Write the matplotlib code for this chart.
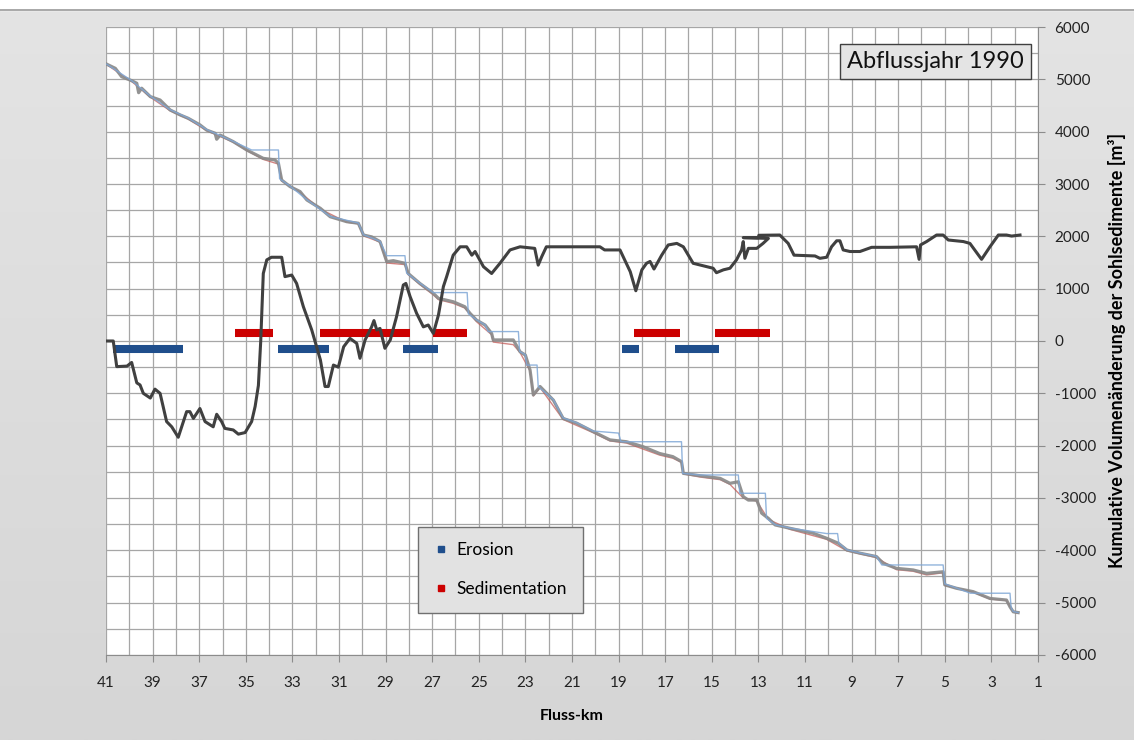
import numpy as np
import matplotlib
matplotlib.use("Agg")
import matplotlib.pyplot as plt
from matplotlib.lines import Line2D
from matplotlib.ticker import MultipleLocator
from matplotlib.colors import LinearSegmentedColormap

plt.rcParams['font.family'] = ['Lato', 'DejaVu Sans']
plt.rcParams['axes.unicode_minus'] = False

# Differenz Erosion/Sedimentation entlang der Fliessstrecke
diff_km = [41.0, 40.69, 40.54, 40.1, 39.9, 39.68, 39.54, 39.4, 39.1, 38.9,
           38.68, 38.4, 38.18, 37.9, 37.54, 37.4, 37.25, 36.97, 36.75, 36.4,
           36.25, 36.04, 35.9, 35.54, 35.32, 35.03, 34.75, 34.6, 34.46, 34.36,
           34.25, 34.1, 33.9, 33.46, 33.32, 33.03, 32.82, 32.53, 32.17, 31.8,
           31.6, 31.46, 31.24, 31.03, 30.8, 30.53, 30.24, 30.1, 29.88, 29.6,
           29.5, 29.38, 29.24, 29.03, 28.8, 28.53, 28.24, 28.13, 27.95, 27.67,
           27.38, 27.17, 26.95, 26.73, 26.52, 26.38, 26.1, 25.8, 25.52, 25.3,
           25.16, 24.8, 24.45, 24.1, 23.66, 23.23, 22.6, 22.45, 22.3, 22.1,
           19.8, 19.6, 18.94, 18.5, 18.26, 18.0, 17.8, 17.65, 17.48, 17.15,
           16.87, 16.5, 16.22, 15.8, 15.22, 14.94, 14.8, 14.5, 14.22, 13.94,
           13.72, 13.65, 13.58, 13.43, 13.07, 12.8, 12.57, 13.65, 13.0, 12.98,
           12.08, 11.72, 11.47, 10.57, 10.36, 10.07, 9.86, 9.64, 9.5, 9.36,
           9.07, 8.64, 8.14, 7.35, 6.21, 6.1, 6.04, 5.78, 5.35, 5.07,
           4.85, 4.2, 3.92, 3.42, 3.06, 2.7, 2.35, 2.13, 1.77]
diff_val = [0, 0, -490, -480, -410, -800, -840, -1000, -1090, -920,
            -1000, -1540, -1640, -1840, -1350, -1350, -1480, -1290, -1540, -1640,
            -1400, -1540, -1670, -1700, -1780, -1750, -1540, -1250, -850, 0,
            1290, 1550, 1600, 1600, 1230, 1260, 1100, 655, 210, -360,
            -870, -870, -460, -500, -110, 50, -45, -330, 20, 270,
            390, 210, 240, -140, 20, 465, 1070, 1100, 850, 530,
            270, 305, 145, 500, 1040, 1230, 1640, 1800, 1800, 1640,
            1710, 1420, 1290, 1480, 1740, 1800, 1770, 1450, 1610, 1800,
            1800, 1740, 1740, 1325, 960, 1360, 1485, 1520, 1375, 1640,
            1835, 1865, 1800, 1485, 1420, 1390, 1305, 1360, 1390, 1550,
            1740, 1900, 1580, 1770, 1770, 1865, 1960, 1975, 1975, 2020,
            2025, 1865, 1640, 1625, 1580, 1600, 1800, 1915, 1915, 1740,
            1710, 1710, 1790, 1790, 1800, 1560, 1835, 1900, 2025, 2025,
            1930, 1900, 1865, 1560, 1800, 2025, 2025, 2005, 2025]

# kumulative Volumenaenderung (grau)
cum_km = [40.97, 40.6, 40.33, 39.9, 39.68, 39.6, 39.47, 39.1, 38.68, 38.25,
          37.82, 37.47, 36.97, 36.68, 36.32, 36.25, 36.1, 35.54, 34.96, 34.25,
          33.75, 33.6, 33.46, 33.1, 32.67, 32.38, 31.8, 31.38, 30.67, 30.17,
          29.95, 29.6, 29.24, 28.95, 28.67, 28.17, 28.03, 27.53, 26.95, 26.73,
          26.1, 25.6, 25.38, 25.1, 24.73, 24.45, 24.38, 23.52, 23.23, 23.0,
          22.8, 22.66, 22.37, 21.8, 21.38, 20.8, 20.1, 19.37, 18.66, 17.95,
          17.24, 16.67, 16.3, 16.22, 15.5, 14.64, 14.22, 13.86, 13.65, 13.43,
          13.07, 12.86, 12.57, 12.28, 11.64, 10.64, 10.07, 9.57, 9.2, 8.64,
          7.93, 7.64, 7.07, 6.36, 5.78, 5.07, 5.0, 4.5, 3.78, 3.06,
          2.35, 2.2, 2.06, 1.85]
cum_val = [5290, 5210, 5050, 4975, 4925, 4745, 4830, 4670, 4605, 4415,
           4320, 4255, 4130, 4030, 3970, 3855, 3935, 3810, 3650, 3490,
           3460, 3395, 3075, 2950, 2855, 2695, 2535, 2375, 2280, 2250,
           2025, 1990, 1900, 1515, 1535, 1485, 1290, 1100, 910, 815,
           750, 655, 530, 400, 305, 145, 20, 20, -205, -270,
           -555, -1030, -870, -1130, -1480, -1570, -1730, -1890, -1925, -2020,
           -2150, -2210, -2305, -2530, -2575, -2625, -2720, -2690, -2975, -3040,
           -3040, -3290, -3390, -3515, -3580, -3675, -3770, -3865, -3995, -4055,
           -4120, -4250, -4345, -4375, -4440, -4410, -4660, -4725, -4790, -4920,
           -4950, -5080, -5175, -5190]

# Vergleichslinie (rot)
red_km = [40.97, 39.9, 39.1, 38.25, 37.47, 36.68, 35.54, 34.96, 34.25, 33.6,
          33.46, 32.67, 31.8, 30.67, 30.17, 29.95, 29.24, 28.95, 28.17, 28.03,
          27.53, 26.95, 26.73, 26.1, 25.6, 25.1, 24.45, 24.38, 23.52, 23.23,
          22.8, 22.66, 22.37, 21.38, 20.1, 19.37, 18.66, 17.24, 16.67, 16.3,
          16.22, 15.5, 14.64, 14.22, 13.65, 13.07, 12.57, 11.64, 10.07, 9.2,
          7.93, 7.07, 6.36, 5.78, 5.07, 5.0, 3.78, 3.06, 2.35, 2.06, 1.85]
red_val = [5280, 4960, 4660, 4400, 4240, 4020, 3800, 3640, 3470, 3380,
           3060, 2840, 2520, 2270, 2240, 2010, 1890, 1490, 1460, 1270,
           1080, 880, 790, 720, 630, 370, 120, -20, -70, -220,
           -570, -1050, -890, -1500, -1750, -1910, -1950, -2180, -2240, -2320,
           -2540, -2600, -2650, -2740, -3000, -3060, -3410, -3600, -3790, -4010,
           -4140, -4370, -4400, -4470, -4430, -4670, -4800, -4930, -4960, -5180, -5200]

# Vergleichslinie (blau, stufig)
blue_km = [40.97, 39.9, 39.1, 38.25, 37.47, 36.68, 35.54, 34.75, 33.6, 33.55,
           33.1, 32.38, 31.38, 30.17, 29.95, 29.24, 28.95, 28.17, 28.1, 27.53,
           26.95, 25.5, 25.45, 25.1, 24.73, 24.6, 23.3, 23.25, 23.0, 22.95,
           22.5, 22.45, 21.8, 21.38, 20.8, 20.1, 19.0, 18.9, 16.3, 16.25,
           15.5, 13.86, 13.8, 12.7, 12.65, 12.28, 11.64, 10.07, 9.6, 9.55,
           9.2, 8.64, 7.93, 7.7, 5.07, 5.0, 4.5, 3.9, 2.2, 2.15, 2.06, 1.85]
blue_val = [5290, 4975, 4680, 4420, 4260, 4040, 3815, 3650, 3650, 3100,
            2960, 2700, 2380, 2255, 2030, 1905, 1630, 1630, 1300, 1105,
            925, 925, 520, 405, 310, 180, 180, -200, -260, -460,
            -460, -870, -1120, -1470, -1560, -1720, -1760, -1925, -1925, -2530,
            -2560, -2560, -2910, -2910, -3390, -3510, -3575, -3680, -3680, -3860,
            -3990, -4050, -4115, -4280, -4280, -4640, -4720, -4820, -4820, -5100, -5170, -5190]

# Abschnitte mit Erosion / Sedimentation
ero_start = [40.7, 33.6, 28.25, 18.85, 16.58]
ero_end = [37.7, 31.45, 26.75, 18.13, 14.7]
sed_start = [35.46, 31.83, 26.97, 18.34, 14.86]
sed_end = [33.83, 27.95, 25.5, 16.36, 12.5]
ero_level = -150
sed_level = 150

fig = plt.figure(figsize=(11.34, 7.40), dpi=100)
fig.patch.set_facecolor('#dadada')

# heller Verlauf im Hintergrund
bg = fig.add_axes([0, 0, 1, 1], zorder=-5)
grad = np.linspace(0, 1, 256).reshape(-1, 1)
bg.imshow(grad, aspect='auto',
          cmap=LinearSegmentedColormap.from_list('bg', ['#e4e4e4', '#d6d6d6']),
          extent=[0, 1, 0, 1], origin='upper')
bg.axhspan(0.987, 1.0, color='white')
bg.axhline(0.986, color='#9a9a9a', lw=1.2)
bg.set_xlim(0, 1)
bg.set_ylim(0, 1)
bg.axis('off')

ax = fig.add_axes([0.0935, 0.1149, 0.8218, 0.8486])
ax.set_facecolor('white')

ax.plot(red_km, red_val, color='#c0504d', lw=1.0, alpha=0.7, zorder=2)
ax.plot(cum_km, cum_val, color='#8a8a8a', lw=2.3, alpha=0.92, zorder=3)
ax.plot(blue_km, blue_val, color='#7fa7d6', lw=1.0, alpha=0.85, zorder=4)

ax.hlines([ero_level] * len(ero_start), ero_start, ero_end, colors='#1f4e8c',
          lw=5.8, capstyle='butt', zorder=5)
ax.hlines([sed_level] * len(sed_start), sed_start, sed_end, colors='#cc0000',
          lw=5.8, capstyle='butt', zorder=5)

ax.plot(diff_km, diff_val, color='#404040', lw=2.2, zorder=6,
        solid_joinstyle='round')

ax.set_xlim(41, 1)
ax.set_ylim(-6000, 6000)
ax.xaxis.set_minor_locator(MultipleLocator(1))
ax.yaxis.set_major_locator(MultipleLocator(1000))
ax.yaxis.set_minor_locator(MultipleLocator(500))
ax.set_xticks(np.arange(41, 0, -2))
ax.grid(which='both', color='#a6a6a6', lw=0.9)
ax.set_axisbelow(True)

ax.yaxis.tick_right()
ax.yaxis.set_label_position('right')
ax.tick_params(axis='both', which='major', length=5, color='#8c8c8c',
               labelsize=11, labelcolor='#222222')
ax.tick_params(axis='x', which='major', pad=10)
ax.tick_params(axis='y', which='major', pad=7)
ax.tick_params(which='minor', length=0)
for side in ['left', 'top']:
    ax.spines[side].set_visible(False)
for side in ['right', 'bottom']:
    ax.spines[side].set_color('#8c8c8c')

ax.set_xlabel('Fluss-km', fontsize=11.5, fontweight='bold', labelpad=14)
ax.set_ylabel('Kumulative Volumenänderung der Sohlsedimente [m³]', fontsize=13,
              fontweight='bold', labelpad=9)
ax.yaxis.set_label_coords(1.075, 0.485)

ax.text(0.985, 0.962, 'Abflussjahr 1990', transform=ax.transAxes, ha='right',
        va='top', fontsize=17, color='#111111', zorder=10,
        bbox=dict(boxstyle='square,pad=0.3', facecolor='#e4e4e4',
                  edgecolor='#404040', lw=1.0))

handles = [Line2D([], [], ls='none', marker='s', ms=5, color='#1f4e8c'),
           Line2D([], [], ls='none', marker='s', ms=5, color='#cc0000')]
leg = ax.legend(handles, ['Erosion', 'Sedimentation'], loc='upper left',
                bbox_to_anchor=(0.335, 0.204), fontsize=12.5, frameon=True,
                fancybox=False, edgecolor='#707070', facecolor='#e2e2e2',
                framealpha=1, labelspacing=1.3, handlelength=0.8,
                handletextpad=0.5, borderpad=0.9, borderaxespad=0)
leg.set_zorder(10)
leg.get_frame().set_linewidth(1.0)

fig.savefig('out.png', dpi=100, facecolor=fig.get_facecolor())
